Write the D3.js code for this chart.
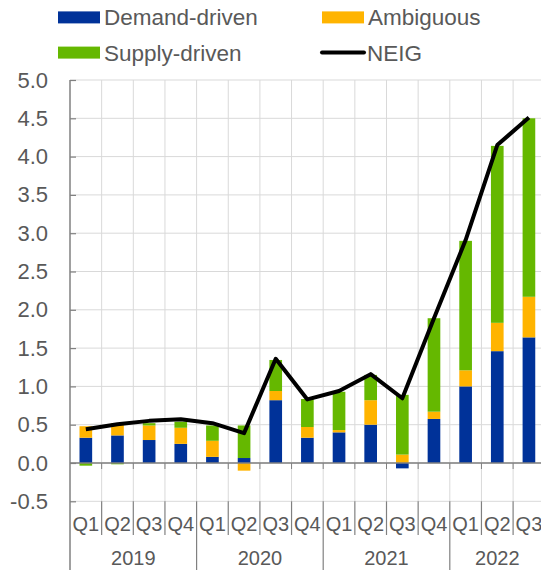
<!DOCTYPE html>
<html><head><meta charset="utf-8">
<script src="https://cdn.jsdelivr.net/npm/d3@7"></script>
<style>html,body{margin:0;padding:0;background:#fff;}svg{display:block;font-family:"Liberation Sans",Arial,sans-serif;}</style>
</head><body>
<svg id="c" width="541" height="570"></svg>
<script>
const quarters = ["Q1","Q2","Q3","Q4","Q1","Q2","Q3","Q4","Q1","Q2","Q3","Q4","Q1","Q2","Q3"];
const years = ["2019","2020","2021","2022"];
const demand    = [0.33,0.36,0.30,0.25,0.08,0.065,0.82,0.33,0.40,0.50,-0.07,0.575,1.00,1.46,1.64];
const ambiguous = [0.15,0.16,0.19,0.21,0.21,-0.10,0.12,0.14,0.03,0.32,0.11,0.095,0.21,0.37,0.53];
const supply    = [-0.035,-0.017,0.03,0.08,0.20,0.425,0.405,0.365,0.50,0.33,0.78,1.22,1.69,2.31,2.33];
const neig      = [0.44,0.505,0.55,0.57,0.52,0.39,1.36,0.83,0.94,1.16,0.845,1.89,2.91,4.15,4.51];
const yTicks = [-0.5,0,0.5,1,1.5,2,2.5,3,3.5,4,4.5,5];

const colors = {demand:"#003299", ambiguous:"#FFB400", supply:"#65B800"};
const textCol = "#595959", gridCol = "#d9d9d9", axisCol = "#808080";

const svg = d3.select("#c");
const idx = quarters.map((q,i)=>i);
const x = d3.scaleBand().domain(idx).range([70, 70+15*31.65]).paddingInner(0.6).paddingOuter(0.3);
const step = x.step();
const x0 = 70;
const y = d3.scaleLinear().domain([-0.5,5]).range([501.3,80]);

// gridlines
const g = svg.append("g");
g.selectAll("line.h").data(yTicks).join("line")
  .attr("x1",x0).attr("x2",541).attr("y1",d=>y(d)).attr("y2",d=>y(d))
  .attr("stroke",gridCol).attr("stroke-width",1);
g.selectAll("line.v").data(d3.range(1,16)).join("line")
  .attr("x1",d=>x0+d*step).attr("x2",d=>x0+d*step).attr("y1",y(5)).attr("y2",y(-0.5))
  .attr("stroke",gridCol).attr("stroke-width",1);

// stacked bars
const rows = idx.map(i=>({i, demand:demand[i], ambiguous:ambiguous[i], supply:supply[i]}));
const keys = ["demand","ambiguous","supply"];
const series = d3.stack().keys(keys).offset(d3.stackOffsetDiverging)(rows);
svg.append("g").selectAll("g").data(series).join("g")
  .attr("fill",d=>colors[d.key])
  .selectAll("rect").data(d=>d).join("rect")
  .attr("x",d=>x(d.data.i)).attr("width",x.bandwidth())
  .attr("y",d=>y(Math.max(d[0],d[1]))).attr("height",d=>Math.abs(y(d[0])-y(d[1])));

// zero line
svg.append("line").attr("x1",x0).attr("x2",541).attr("y1",y(0)).attr("y2",y(0))
  .attr("stroke",axisCol).attr("stroke-width",1.5);
svg.append("g").selectAll("line").data(d3.range(1,16)).join("line")
  .attr("x1",d=>x0+d*step).attr("x2",d=>x0+d*step).attr("y1",y(0)).attr("y2",y(0)+6)
  .attr("stroke",axisCol).attr("stroke-width",1);

// y axis
const yAxis = svg.append("g").attr("transform",`translate(${x0},0)`)
  .call(d3.axisLeft(y).tickValues(yTicks).tickFormat(d=>d.toFixed(1)).tickSize(-6).tickPadding(22));
yAxis.select(".domain").remove();
yAxis.selectAll(".tick line").attr("stroke",axisCol).attr("stroke-width",1.2);
yAxis.selectAll(".tick text").attr("fill",textCol).attr("font-size",22).attr("font-family","Liberation Sans, Arial, sans-serif");
svg.append("line").attr("x1",x0).attr("x2",x0).attr("y1",y(5)).attr("y2",570)
  .attr("stroke",axisCol).attr("stroke-width",1.5);

// category axis at bottom
const cat = svg.append("g");
cat.selectAll("line.q").data(d3.range(1,15).filter(d=>d%4!==0)).join("line")
  .attr("x1",d=>x0+d*step).attr("x2",d=>x0+d*step).attr("y1",y(-0.5)).attr("y2",535)
  .attr("stroke",axisCol).attr("stroke-width",1.2);
cat.selectAll("line.yr").data([4,8,12]).join("line")
  .attr("x1",d=>x0+d*step).attr("x2",d=>x0+d*step).attr("y1",y(-0.5)).attr("y2",570)
  .attr("stroke",axisCol).attr("stroke-width",1.2);
cat.selectAll("text.q").data(idx).join("text")
  .attr("x",d=>x(d)+x.bandwidth()/2).attr("y",531).attr("text-anchor","middle")
  .attr("fill",textCol).attr("font-size",20).text(d=>quarters[d]);
cat.selectAll("text.yr").data(years).join("text")
  .attr("x",(d,i)=>x0+(i*4+Math.min(4,15-i*4)/2)*step).attr("y",565).attr("text-anchor","middle")
  .attr("fill",textCol).attr("font-size",20).text(d=>d);

// NEIG line
const line = d3.line().x((d,i)=>x(i)+x.bandwidth()/2).y(d=>y(d));
svg.append("path").datum(neig).attr("d",line).attr("fill","none")
  .attr("stroke","#000").attr("stroke-width",4).attr("stroke-linejoin","round");

// legend
const legend = [
  {label:"Demand-driven", type:"rect", color:colors.demand, x:58, y:17.4},
  {label:"Ambiguous", type:"rect", color:colors.ambiguous, x:322, y:17.4},
  {label:"Supply-driven", type:"rect", color:colors.supply, x:58, y:52.6},
  {label:"NEIG", type:"line", color:"#000", x:321, y:52.6}
];
const lg = svg.append("g").selectAll("g").data(legend).join("g");
lg.filter(d=>d.type==="rect").append("rect")
  .attr("x",d=>d.x).attr("y",d=>d.y-6).attr("width",42).attr("height",12).attr("fill",d=>d.color);
lg.filter(d=>d.type==="line").append("line")
  .attr("x1",d=>d.x+1).attr("x2",d=>d.x+43).attr("y1",d=>d.y).attr("y2",d=>d.y)
  .attr("stroke",d=>d.color).attr("stroke-width",4).attr("stroke-linecap","round");
lg.append("text").attr("x",d=>d.x+46).attr("y",d=>d.y+8)
  .attr("fill",textCol).attr("font-size",22.5).text(d=>d.label);
</script>
</body></html>
